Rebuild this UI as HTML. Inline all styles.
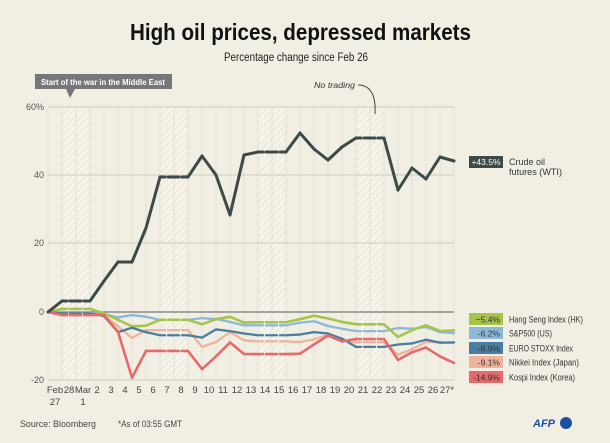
<!DOCTYPE html>
<html><head><meta charset="utf-8">
<style>
html,body{margin:0;padding:0;background:#f1efe3;}
svg{display:block;font-family:"Liberation Sans",sans-serif;}
</style></head>
<body>
<svg id="s" width="610" height="443" viewBox="0 0 610 443" xmlns="http://www.w3.org/2000/svg">
<defs>
<pattern id="h" width="5" height="5" patternUnits="userSpaceOnUse" patternTransform="rotate(45)">
<rect width="5" height="5" fill="#f6f4ea"/>
<line x1="0" y1="0" x2="0" y2="5" stroke="#dedbc9" stroke-width="1.2"/>
</pattern>
</defs>
<rect width="610" height="443" fill="#f1efe3"/>
<text x="130" y="40" textLength="341" lengthAdjust="spacingAndGlyphs" font-size="23" font-weight="bold" fill="#111">High oil prices, depressed markets</text>
<text x="224" y="61" textLength="144" lengthAdjust="spacingAndGlyphs" font-size="11.5" fill="#222">Percentage change since Feb 26</text>
<g id="hatch"></g>
<g id="grid"></g>
<text x="44" y="110" text-anchor="end" font-size="9" fill="#555">60%</text>
<text x="44" y="178" text-anchor="end" font-size="9" fill="#555">40</text>
<text x="44" y="246" text-anchor="end" font-size="9" fill="#555">20</text>
<text x="44" y="315" text-anchor="end" font-size="9" fill="#555">0</text>
<text x="44" y="383" text-anchor="end" font-size="9" fill="#555">-20</text>
<g id="xl" font-size="9.5" fill="#444" text-anchor="middle"></g>
<g id="lines" fill="none" stroke-linejoin="round"></g>
<rect x="35" y="74" width="137" height="15" fill="#77777a"/>
<polygon points="66,89 75,89 70,98" fill="#77777a"/>
<text x="41" y="85" textLength="124" lengthAdjust="spacingAndGlyphs" font-size="8.5" font-weight="bold" fill="#fff">Start of the war in the Middle East</text>
<text x="314" y="88" textLength="41" lengthAdjust="spacingAndGlyphs" font-size="8.5" font-style="italic" fill="#333">No trading</text>
<path d="M358,85 C372,85 376,98 375,114" stroke="#444" stroke-width="1" fill="none"/>
<rect x="469" y="156" width="34" height="12" fill="#3d4a48"/>
<text x="486" y="165" text-anchor="middle" font-size="8.5" fill="#fff">+43.5%</text>
<text x="509" y="165" font-size="9" fill="#333">Crude oil</text>
<text x="509" y="175" textLength="53" lengthAdjust="spacingAndGlyphs" font-size="9" fill="#333">futures (WTI)</text>
<g id="leg" font-size="9"></g>
<text x="20" y="427" textLength="76" lengthAdjust="spacingAndGlyphs" font-size="9.5" fill="#444">Source: Bloomberg</text>
<text x="118" y="427" textLength="64" lengthAdjust="spacingAndGlyphs" font-size="9" fill="#444">*As of 03:55 GMT</text>
<text x="555" y="427" text-anchor="end" font-size="11" font-weight="bold" font-style="italic" fill="#1b4fa0">AFP</text>
<circle cx="566" cy="423" r="6" fill="#1b4fa0"/>
</svg>
<script>
var NS="http://www.w3.org/2000/svg";
function el(p,t,a){var e=document.createElementNS(NS,t);for(var k in a)e.setAttribute(k,a[k]);p.appendChild(e);return e;}
var H=document.getElementById('hatch'),G=document.getElementById('grid'),L=document.getElementById('lines'),X=document.getElementById('xl'),LG=document.getElementById('leg');
var wk=[1,2,8,9,15,16,22,23];
wk.forEach(function(k){el(H,'rect',{x:48+14*k,y:107,width:14,height:273,fill:'url(#h)'});});
for(var k=0;k<=29;k++){el(G,'line',{x1:48+14*k,y1:107,x2:48+14*k,y2:380,stroke:'#e2e0d2','stroke-width':1});}
[107,175,243,380].forEach(function(y){el(G,'line',{x1:48,y1:y,x2:454,y2:y,stroke:'#cfcdbf','stroke-width':1});});
el(G,'line',{x1:48,y1:312,x2:454,y2:312,stroke:'#77787a','stroke-width':1.2});
var labs=['Feb','28','Mar','2','3','4','5','6','7','8','9','10','11','12','13','14','15','16','17','18','19','20','21','22','23','24','25','26','27*'];
labs.forEach(function(t,k){var e=el(X,'text',{x:55+14*k,y:393});e.textContent=t;});
var e=el(X,'text',{x:55,y:405});e.textContent='27';
e=el(X,'text',{x:83,y:405});e.textContent='1';
function yv(v){return 312-v*3.417;}
var ser=[
 {c:'#f0b29c',w:2.3,v:[-0.5,-0.5,-0.5,-1,-4.2,-7.6,-5.3,-5.3,-5.3,-5.3,-10.2,-8.8,-5.9,-8.3,-8.6,-8.6,-8.6,-8.8,-8,-6.7,-8.3,-8.8,-8.8,-8.8,-12.5,-10.9,-8.8,-8.8,-9.1]},
 {c:'#8db8d9',w:2.3,v:[-0.3,-0.3,-0.3,-0.6,-1.6,-0.9,-1.4,-2.3,-2.3,-2.3,-1.8,-2.1,-2.9,-3.9,-3.9,-3.9,-3.9,-3.1,-2.7,-4.1,-4.9,-5.6,-5.6,-5.6,-4.7,-4.9,-4.4,-5.9,-6.2]},
 {c:'#a6c44a',w:2.6,v:[0.9,0.9,0.9,-0.4,-2.3,-4.2,-4,-2.3,-2.3,-2.3,-3.6,-2.1,-1.4,-3.1,-3,-3,-3,-2.1,-1.1,-1.9,-2.9,-3.6,-3.6,-3.6,-7.3,-5.3,-3.9,-5.6,-5.4]},
 {c:'#4a7ea0',w:2.3,v:[-0.4,-0.4,-0.4,-1.2,-5.9,-4.6,-5.9,-6.8,-6.8,-6.8,-7.5,-5.1,-5.6,-6.3,-6.8,-6.8,-6.8,-6.6,-5.9,-6.3,-7.8,-10.2,-10.2,-10.2,-9.5,-9.2,-8.1,-9,-8.9]},
 {c:'#e8696a',w:2.6,v:[-0.9,-0.9,-0.9,-0.9,-5.8,-19.2,-11.4,-11.4,-11.4,-11.4,-16.7,-13,-8.9,-12.3,-12.3,-12.3,-12.3,-12.2,-9.5,-6.9,-8.6,-7.9,-7.9,-7.9,-14,-11.8,-10.4,-13,-14.9]},
 {c:'#3d4a48',w:3,y:[301,301,301,281,262,262,228,177,177,177,156,175,215,155,152,152,152,133,149,160,147,138,138,138,190,168,179,157,161]}
];
ser.forEach(function(s){
 var ys=s.y?s.y:s.v.map(yv);
 var pts=[[48,312]];for(var k=0;k<29;k++)pts.push([62+14*k,ys[k]]);
 for(var i=1;i<pts.length;i++){
  var k=i-1;var dashed=wk.indexOf(k)>=0;
  el(L,'line',{x1:pts[i-1][0],y1:pts[i-1][1],x2:pts[i][0],y2:pts[i][1],stroke:s.c,'stroke-width':s.w,'stroke-linecap':'round','stroke-dasharray':dashed?'5,3':'none'});
 }
});
var lg=[['#a6c44a','−5.4%','Hang Seng Index (HK)',319,74],['#8db8d9','-6.2%','S&P500 (US)',333,43],['#4a7ea0','-8.9%','EURO STOXX Index',348,64],['#f0b29c','-9.1%','Nikkei Index (Japan)',362,70],['#e8696a','-14.9%','Kospi Index (Korea)',377,66]];
lg.forEach(function(r){
 el(LG,'rect',{x:469,y:r[3]-6,width:34,height:12,fill:r[0]});
 var t=el(LG,'text',{x:500,y:r[3]+3.5,'text-anchor':'end',fill:'#333','font-size':8.5});t.textContent=r[1];
 t=el(LG,'text',{x:509,y:r[3]+3.5,fill:'#333',textLength:r[4],lengthAdjust:'spacingAndGlyphs'});t.textContent=r[2];
});
</script>
</body></html>
